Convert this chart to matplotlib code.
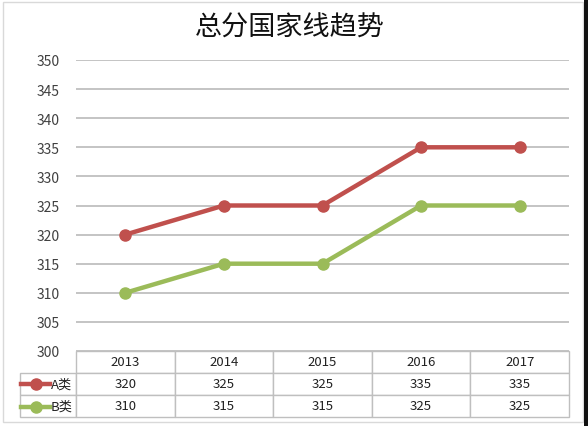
import matplotlib

matplotlib.use("Agg")
import matplotlib.pyplot as plt
from matplotlib.patches import Rectangle

plt.rcParams["font.family"] = ["Noto Sans CJK SC", "DejaVu Sans"]

# ── Data ─────────────────────────────────────────────────────────────────────
years = ["2013", "2014", "2015", "2016", "2017"]
series_names = ["A类", "B类"]
scores_a = [320, 325, 325, 335, 335]
scores_b = [310, 315, 315, 325, 325]
y_ticks = [300, 305, 310, 315, 320, 325, 330, 335, 340, 345, 350]
title = "总分国家线趋势"

RED = "#C0504D"
GREEN = "#9BBB59"
GRID = "#BFBFBF"
TEXT = "#404040"

W, H = 588, 427
fig = plt.figure(figsize=(W / 100, H / 100), dpi=100)


def px(x0, y0, x1, y1):
    """pixel box (top-left origin) -> figure fraction rect"""
    return [x0 / W, 1 - y1 / H, (x1 - x0) / W, (y1 - y0) / H]


# outer chart frame
fig.patches.append(
    Rectangle((2.5 / W, 1 - 422.5 / H), 580 / W, 420 / H, transform=fig.transFigure,
              fill=False, edgecolor="#D9D9D9", linewidth=1)
)
fig.patches.append(
    Rectangle((584 / W, 0), 4 / W, 1, transform=fig.transFigure,
              facecolor="#111111", edgecolor="none")
)

ax = fig.add_axes(px(76, 61, 569, 352))
x = [i + 0.5 for i in range(len(years))]
ax.plot(x, scores_a, color=RED, linewidth=3.2, marker="o", markersize=8, zorder=3)
ax.plot(x, scores_b, color=GREEN, linewidth=3.2, marker="o", markersize=8, zorder=3)

ax.set_xlim(0, len(years))
ax.set_ylim(300, 350)
ax.set_yticks(y_ticks)
ax.set_xticks([])
ax.tick_params(axis="y", length=0, pad=12, labelsize=10, labelcolor=TEXT)
ax.grid(axis="y", color=GRID, linewidth=1.3)
ax.set_axisbelow(True)
for s in ax.spines.values():
    s.set_visible(False)

fig.text(290 / W, 1 - 28 / H, title, ha="center", va="center", fontsize=19.5,
         fontweight="medium", color="#111111")

# ── Data table ──────────────────────────────────────────────────────────────
axw, axh = 569 - 76, 352 - 61
label_w = 56
col_w = axw / len(years)
total_w = label_w + axw
cell_text = [[""] + years, [""] + [str(v) for v in scores_a], [""] + [str(v) for v in scores_b]]
tbl = ax.table(
    cellText=cell_text,
    colWidths=[label_w / total_w] + [col_w / total_w] * len(years),
    cellLoc="center",
    bbox=[-label_w / axw, -66 / axh, total_w / axw, 66 / axh],
)
tbl.auto_set_font_size(False)
for (r, c), cell in tbl.get_celld().items():
    cell.set_edgecolor(GRID)
    cell.set_linewidth(1)
    cell.get_text().set_fontsize(9.5)
    cell.get_text().set_color("#222222")
tbl[(0, 0)].visible_edges = "open"

# legend keys inside row-label cells
row_centres = [-(373 - 352 + 12) / axh, -(397 - 352 + 10.5) / axh]
for name, color, yc in zip(series_names, [RED, GREEN], row_centres, strict=True):
    ax.plot([-55 / axw, -26 / axw], [yc, yc], color=color, linewidth=3.2,
            transform=ax.transAxes, clip_on=False)
    ax.plot([-40.5 / axw], [yc], color=color, marker="o", markersize=8,
            transform=ax.transAxes, clip_on=False)
    ax.text(-25 / axw, yc, name, transform=ax.transAxes, ha="left", va="center",
            fontsize=9.5, color="#222222")

fig.savefig("out.png", dpi=100)
